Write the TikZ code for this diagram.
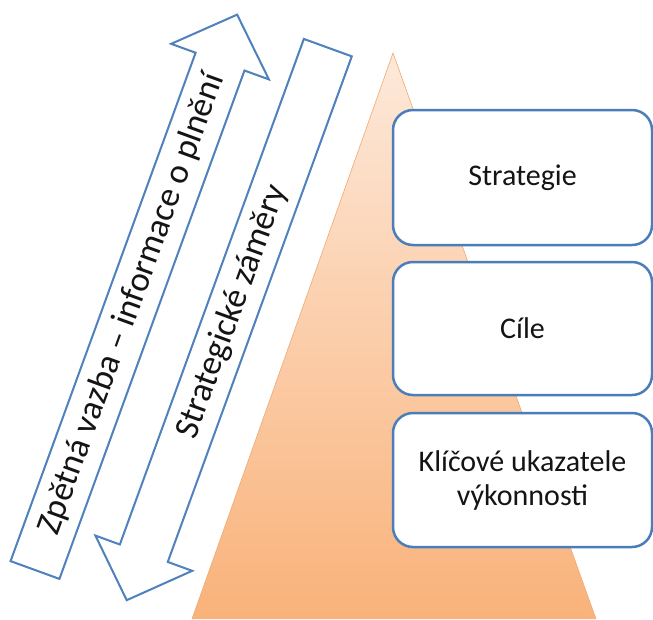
\documentclass[tikz,border=0pt]{standalone}
\usepackage{fontspec}
\setmainfont{Carlito}
\definecolor{arrowblue}{RGB}{79,129,189}
\definecolor{boxblue}{RGB}{74,126,187}
\definecolor{peachtop}{RGB}{253,233,218}
\definecolor{peachbot}{RGB}{249,178,122}
\definecolor{triline}{RGB}{238,170,115}
\definecolor{txt}{RGB}{20,20,20}
\begin{document}
\begin{tikzpicture}[x=1pt,y=-1pt,
  arrowshape/.style={draw=arrowblue, line width=2pt, fill=white, line join=miter},
  kpibox/.style={draw=boxblue, line width=2.5pt, fill=white, rounded corners=20pt,
    minimum width=259pt, font=\fontsize{30}{34}\selectfont, text=txt, align=center},
  arrowtext/.style={font=\fontsize{35}{40}\selectfont, text=txt, rotate=70}]
\useasboundingbox (0,0) rectangle (653,619);
\fill[white] (0,0) rectangle (653,619);
% pyramid
\shade[top color=peachtop, bottom color=peachbot] (393,53) -- (596,619) -- (192,619) -- cycle;
\draw[triline, line width=0.6pt] (192,619) -- (393,53) -- (596,619);
% arrows
\begin{scope}[shift={(35,570)}, rotate=70]
  \draw[arrowshape] (0,-26) -- (541,-26) -- (541,-52) -- (591,0) -- (541,52) -- (541,26) -- (0,26) -- cycle;
  \draw[arrowshape] (591,71) -- (591,122) -- (53,122) -- (53,148) -- (3,96.5) -- (53,45) -- (53,71) -- cycle;
  \node[arrowtext] (fb) at (283,0) {Zpětná vazba – informace o plnění};
  \node[arrowtext] (sz) at (310,97) {Strategické záměry};
\end{scope}
% boxes
\node[kpibox, minimum height=135pt] (s) at (522.5,177.5) {Strategie};
\node[kpibox, minimum height=133pt] (c) at (522.5,328.5) {Cíle};
\node[kpibox, minimum height=134pt] (k) at (522.5,480) {Klíčové ukazatele\\výkonnosti};
\end{tikzpicture}
\end{document}
